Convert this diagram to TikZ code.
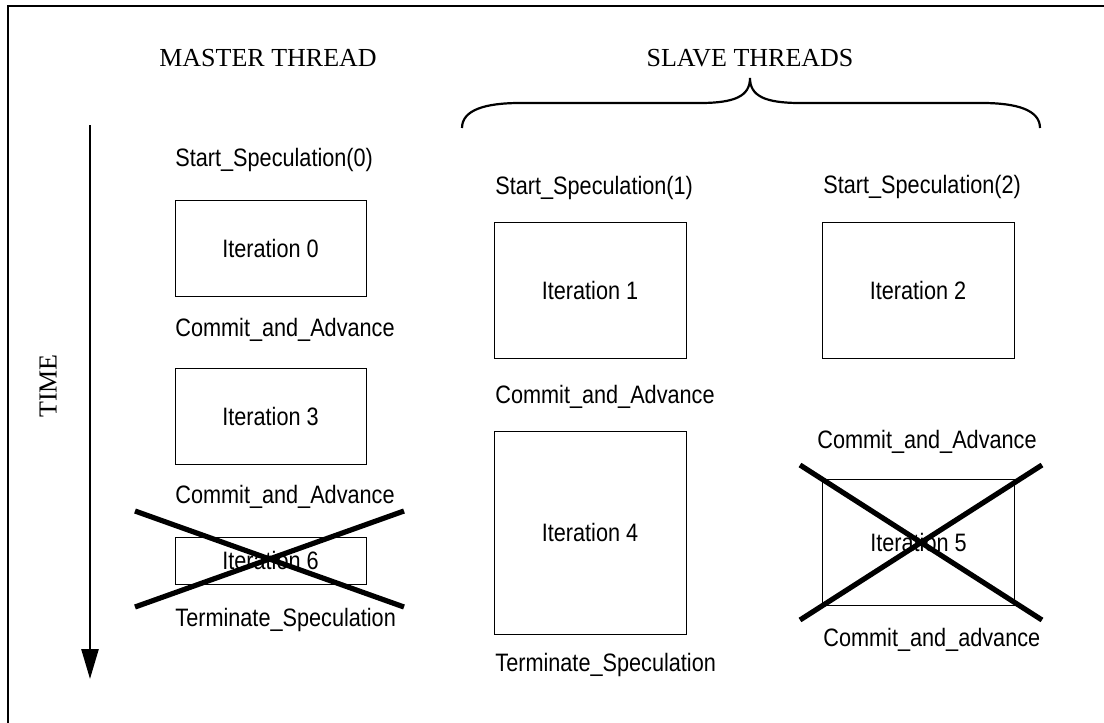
\documentclass[tikz,border=0pt]{standalone}
\usepackage{fontspec}
\setmainfont{Liberation Serif}
\newfontfamily\labelfont[FakeStretch=0.86]{Liberation Sans}
\usetikzlibrary{arrows.meta}

\begin{document}
\begin{tikzpicture}[x=0.5pt,y=-0.5pt,
  iterbox/.style={draw,line width=0.5pt,inner sep=0pt,minimum width=95.5pt,
    font=\labelfont\fontsize{12.6}{15}\selectfont},
  lbl/.style={anchor=west,inner sep=0pt,font=\labelfont\fontsize{12.6}{15}\selectfont},
  head/.style={inner sep=0pt,font=\fontsize{13}{15}\selectfont},
  cross/.style={line width=2.6pt},
  timearrow/.style={line width=1.3pt,-{Triangle[length=15pt,width=8.5pt]}}]
\useasboundingbox (0,0) rectangle (1104,723);
\draw[line width=0.6pt] (8,723) -- (8,6) -- (1104,6);

\draw (268,58) node[head] (master) {MASTER THREAD};
\draw (750,58) node[head] (slave) {SLAVE THREADS};
\draw (48,386) node[head,rotate=90] (time) {TIME};

% time axis
\coordinate (tstart) at (90,125);
\coordinate (tend) at (90,679);
\draw[timearrow] (tstart) -- (tend);

% brace over the slave threads
\draw[line width=1.1pt] (462,128) .. controls (462,110) and (485,103) .. (520,103)
  -- (700,103) .. controls (735,103) and (750,96) .. (750,78)
  .. controls (750,96) and (765,103) .. (800,103)
  -- (982,103) .. controls (1017,103) and (1040,110) .. (1040,128);

% master thread
\draw (175,160) node[lbl] (ss0) {Start\_Speculation(0)};
\draw (270.5,248) node[iterbox,minimum height=48pt] (it0) {Iteration 0};
\draw (175,330) node[lbl] (ca0) {Commit\_and\_Advance};
\draw (270.5,416) node[iterbox,minimum height=48pt] (it3) {Iteration 3};
\draw (175,497) node[lbl] (ca3) {Commit\_and\_Advance};
\draw (270.5,560.5) node[iterbox,minimum height=23.5pt] (it6) {Iteration 6};
\draw (175,620) node[lbl] (ts0) {Terminate\_Speculation};
\coordinate (m1) at (135,511);
\coordinate (m2) at (404,607);
\coordinate (m3) at (135,607);
\coordinate (m4) at (404,511);
\draw[cross] (m1) -- (m2);
\draw[cross] (m3) -- (m4);

% first slave thread
\draw (495,188) node[lbl] (ss1) {Start\_Speculation(1)};
\draw (590,290) node[iterbox,minimum width=96pt,minimum height=68pt] (it1) {Iteration 1};
\draw (495,397) node[lbl] (ca1) {Commit\_and\_Advance};
\draw (590,532.5) node[iterbox,minimum width=96pt,minimum height=101.5pt] (it4) {Iteration 4};
\draw (495,665) node[lbl] (ts1) {Terminate\_Speculation};

% second slave thread
\draw (823,187) node[lbl] (ss2) {Start\_Speculation(2)};
\draw (918,290) node[iterbox,minimum width=96pt,minimum height=68pt] (it2) {Iteration 2};
\draw (817,442) node[lbl] (ca2) {Commit\_and\_Advance};
\draw (918.5,542) node[iterbox,minimum width=96pt,minimum height=63pt] (it5) {Iteration 5};
\draw (823,640) node[lbl] (ca5) {Commit\_and\_advance};
\coordinate (s1) at (800,465);
\coordinate (s2) at (1042,620);
\coordinate (s3) at (800,620);
\coordinate (s4) at (1042,465);
\draw[cross] (s1) -- (s2);
\draw[cross] (s3) -- (s4);
\end{tikzpicture}
\end{document}
